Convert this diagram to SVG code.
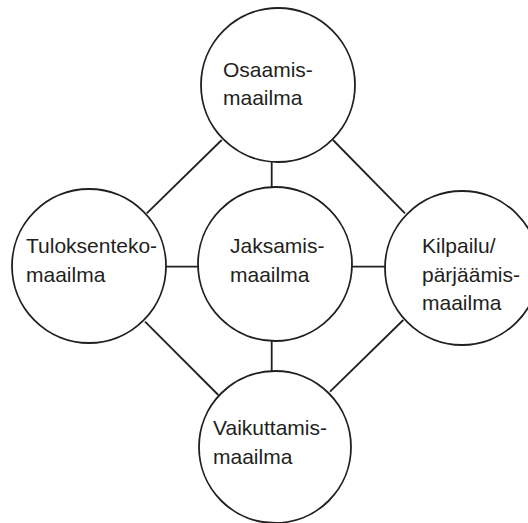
<svg xmlns="http://www.w3.org/2000/svg" width="528" height="523" viewBox="0 0 528 523">
<style>
.c{fill:#fff;stroke:#231f20;stroke-width:1.8}
.l{stroke:#231f20;stroke-width:1.8;fill:none}
text{font-family:"Liberation Sans",Arial,sans-serif;font-size:21px;fill:#231f20}
</style>
<rect width="528" height="523" fill="#fff"/>
<g id="connectors">
<line class="l" x1="221.7" y1="140" x2="146.7" y2="213.3"/>
<line class="l" x1="333" y1="140" x2="405" y2="213.3"/>
<line class="l" x1="145" y1="321.7" x2="218.3" y2="395"/>
<line class="l" x1="403.3" y1="320" x2="330" y2="391.7"/>
<line class="l" x1="165" y1="266.7" x2="199" y2="266.7"/>
<line class="l" x1="351" y1="266.7" x2="386" y2="266.7"/>
<line class="l" x1="271.7" y1="160" x2="271.7" y2="188"/>
<line class="l" x1="271.7" y1="341" x2="271.7" y2="372"/>
</g>
<g id="osaamis">
<circle class="c" cx="278" cy="85" r="77"/>
<text x="223" y="77">Osaamis-</text>
<text x="223" y="105">maailma</text>
</g>
<g id="tuloksenteko">
<circle class="c" cx="89" cy="266" r="77"/>
<text x="26" y="253">Tuloksenteko-</text>
<text x="26" y="282">maailma</text>
</g>
<g id="jaksamis">
<circle class="c" cx="275" cy="264" r="77"/>
<text x="230" y="253">Jaksamis-</text>
<text x="230" y="282">maailma</text>
</g>
<g id="kilpailu">
<circle class="c" cx="462" cy="268" r="77"/>
<text x="422" y="253">Kilpailu/</text>
<text x="422" y="282">pärjäämis-</text>
<text x="422" y="310">maailma</text>
</g>
<g id="vaikuttamis">
<circle class="c" cx="275" cy="447" r="76"/>
<text x="213" y="435">Vaikuttamis-</text>
<text x="213" y="464">maailma</text>
</g>
</svg>
